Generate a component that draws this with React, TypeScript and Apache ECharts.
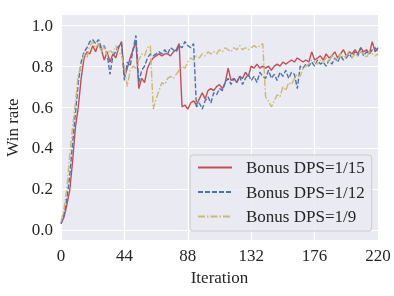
import React, { useEffect, useRef } from "react";
import * as echarts from "echarts";

const STEP = 2; // iterations between sampled points
const xTicks = [0, 44, 88, 132, 176, 220];
const yTicks = [0, 0.2, 0.4, 0.6, 0.8, 1.0];
const seriesNames = ["Bonus DPS=1/15", "Bonus DPS=1/12", "Bonus DPS=1/9"];

const red = [
  0.03, 0.06, 0.12, 0.19, 0.33, 0.5, 0.6, 0.74, 0.84, 0.87, 0.86, 0.9, 0.87, 0.91, 0.88, 0.83, 0.87, 0.82, 0.86, 0.84,
  0.89, 0.92, 0.75, 0.79, 0.84, 0.88, 0.92, 0.69, 0.74, 0.72, 0.79, 0.82, 0.84, 0.85, 0.86, 0.85, 0.86, 0.86, 0.85, 0.87,
  0.88, 0.91, 0.6, 0.61, 0.59, 0.62, 0.63, 0.61, 0.64, 0.67, 0.64, 0.68, 0.69, 0.68, 0.7, 0.71, 0.69, 0.72, 0.79, 0.73,
  0.74, 0.72, 0.75, 0.74, 0.77, 0.75, 0.8, 0.79, 0.81, 0.79, 0.8, 0.79, 0.8, 0.78, 0.8, 0.81, 0.8, 0.82, 0.81, 0.82,
  0.83, 0.82, 0.84, 0.83, 0.82, 0.83, 0.82, 0.87, 0.83, 0.84, 0.85, 0.83, 0.86, 0.84, 0.85, 0.87, 0.84, 0.86, 0.88, 0.85,
  0.87, 0.86, 0.88, 0.86, 0.89, 0.87, 0.88, 0.86, 0.92, 0.87, 0.89,
];

const blue = [
  0.03, 0.07, 0.15, 0.26, 0.42, 0.57, 0.72, 0.82, 0.87, 0.89, 0.92, 0.93, 0.91, 0.93, 0.89, 0.9, 0.86, 0.76, 0.85, 0.87,
  0.9, 0.91, 0.73, 0.82, 0.8, 0.88, 0.95, 0.72, 0.78, 0.8, 0.84, 0.86, 0.85, 0.86, 0.87, 0.86, 0.88, 0.86, 0.89, 0.88,
  0.87, 0.9, 0.89, 0.92, 0.9, 0.89, 0.91, 0.6, 0.62, 0.59, 0.63, 0.65, 0.62, 0.67, 0.66, 0.69, 0.68, 0.72, 0.74, 0.71,
  0.74, 0.72, 0.75, 0.71, 0.74, 0.76, 0.73, 0.75, 0.72, 0.77, 0.75, 0.74, 0.78, 0.74, 0.76, 0.73, 0.77, 0.75, 0.78, 0.74,
  0.77, 0.76, 0.69, 0.8, 0.79, 0.81, 0.8, 0.82, 0.8, 0.83, 0.81, 0.82, 0.8, 0.83, 0.81, 0.84, 0.82, 0.85, 0.83, 0.84,
  0.86, 0.84, 0.87, 0.85, 0.89, 0.85, 0.87, 0.86, 0.88, 0.89, 0.87,
];

const yellow = [
  0.04, 0.1, 0.2, 0.36, 0.5, 0.62, 0.76, 0.8, 0.86, 0.84, 0.9, 0.92, 0.89, 0.91, 0.87, 0.9, 0.85, 0.88, 0.86, 0.9,
  0.87, 0.85, 0.8, 0.7, 0.78, 0.8, 0.79, 0.83, 0.86, 0.85, 0.89, 0.9, 0.59, 0.64, 0.68, 0.72, 0.71, 0.74, 0.75, 0.74,
  0.76, 0.78, 0.8, 0.79, 0.82, 0.84, 0.83, 0.85, 0.84, 0.86, 0.85, 0.87, 0.86, 0.87, 0.86, 0.88, 0.87, 0.89, 0.88, 0.87,
  0.89, 0.88, 0.9, 0.88, 0.89, 0.88, 0.89, 0.9, 0.89, 0.9, 0.91, 0.65, 0.63, 0.6, 0.63, 0.66, 0.65, 0.7, 0.68, 0.72,
  0.71, 0.74, 0.76, 0.75, 0.79, 0.8, 0.81, 0.83, 0.82, 0.81, 0.83, 0.82, 0.84, 0.82, 0.85, 0.84, 0.83, 0.86, 0.84, 0.85,
  0.87, 0.84, 0.86, 0.85, 0.87, 0.86, 0.84, 0.87, 0.86, 0.85, 0.86,
];

const colors = ["#C44E52", "#4C72B0", "#CCB974"];
const FONT = "Liberation Serif";

function toPairs(vals: number[]) {
  return vals.map((v, i) => [i * STEP, v]);
}

export default function App() {
  const ref = useRef<HTMLDivElement>(null);
  useEffect(() => {
    if (!ref.current) return;
    const chart = echarts.init(ref.current, undefined, { renderer: "svg" });
    const values = [red, blue, yellow];
    const dashes: any[] = ["solid", [5, 2], [7, 2, 1.5, 2]];
    chart.setOption({
      animation: false,
      color: colors,
      textStyle: { fontFamily: FONT },
      grid: {
        left: 61,
        right: 16,
        top: 15,
        bottom: 56,
        show: true,
        backgroundColor: "#EAEAF2",
        borderWidth: 0,
        outerBoundsMode: "none",
        containLabel: false,
      },
      xAxis: {
        type: "value",
        min: 0,
        max: 220,
        interval: 44,
        name: "Iteration",
        nameLocation: "middle",
        nameGap: 24,
        nameTextStyle: { fontSize: 17, color: "#262626", fontFamily: FONT },
        axisLine: { show: false },
        axisTick: { show: false },
        axisLabel: {
          fontSize: 17,
          color: "#262626",
          fontFamily: FONT,
          margin: 7,
          customValues: xTicks,
        },
        splitLine: { show: true, lineStyle: { color: "#ffffff", width: 1.2 } },
      },
      yAxis: {
        type: "value",
        min: -0.05,
        max: 1.05,
        name: "Win rate",
        nameLocation: "middle",
        nameGap: 31,
        nameTextStyle: { fontSize: 17, color: "#262626", fontFamily: FONT },
        axisLine: { show: false },
        axisTick: { show: false, customValues: yTicks },
        axisLabel: {
          fontSize: 17,
          color: "#262626",
          fontFamily: FONT,
          margin: 8,
          customValues: yTicks,
          formatter: (v: number) => v.toFixed(1),
        },
        splitLine: { show: true, lineStyle: { color: "#ffffff", width: 1.2 } },
      },
      legend: {
        orient: "vertical",
        left: 190,
        top: 155,
        width: 180,
        padding: [4, 7, 6, 7],
        itemGap: 7.5,
        itemWidth: 34,
        itemHeight: 17,
        itemStyle: { opacity: 0 },
        backgroundColor: "rgba(234,234,242,0.8)",
        borderColor: "#cccccc",
        borderWidth: 1,
        borderRadius: 3,
        data: seriesNames,
        textStyle: { fontSize: 17, color: "#262626", fontFamily: FONT, padding: [0, 0, 0, 9] },
      },
      series: values.map((vals, i) => ({
        name: seriesNames[i],
        type: "line",
        data: toPairs(vals),
        showSymbol: false,
        symbol: "none",
        lineStyle: { width: 1.4, type: dashes[i], color: colors[i] },
        itemStyle: { color: colors[i] },
      })),
    });
    return () => chart.dispose();
  }, []);
  return (
    <div
      ref={ref}
      style={{ position: "fixed", left: 0, top: 0, width: 394, height: 296 }}
    />
  );
}
